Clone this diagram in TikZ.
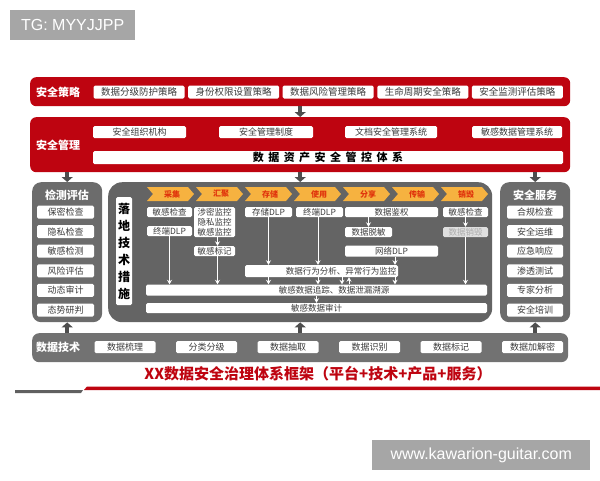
\documentclass[tikz,border=0pt]{standalone}
\usepackage{fontspec}
\setmainfont{Noto Sans CJK SC}
\newfontfamily\wmfont{Liberation Sans}
\usepackage{tikz}
\usetikzlibrary{arrows.meta,positioning}

\definecolor{secred}{RGB}{190,4,16}
\definecolor{panelgray}{RGB}{108,108,108}
\definecolor{ctrgray}{RGB}{100,100,100}
\definecolor{techgray}{RGB}{114,114,114}
\definecolor{arrgray}{RGB}{78,78,78}
\definecolor{stagefill}{RGB}{246,178,64}
\definecolor{stagetext}{RGB}{224,52,12}
\definecolor{itemtext}{RGB}{60,60,60}
\definecolor{wmgray}{RGB}{166,166,166}

\tikzset{
    redbar/.style={fill=secred, rounded corners=6pt, inner sep=0pt},
    graypanel/.style={fill=panelgray, rounded corners=9pt, inner sep=0pt},
    head/.style={text=white, font=\fontsize{11}{12}\selectfont\bfseries},
    item/.style={fill=white, rounded corners=1.5pt, inner sep=0pt, text=itemtext,
        font=\fontsize{9}{10}\selectfont},
    colitem/.style={item, font=\fontsize{8.5}{9}\selectfont},
    stagetxt/.style={text=stagetext, font=\fontsize{8}{9}\selectfont\bfseries},
    warr/.style={draw=white, line width=0.9pt, -{Stealth[length=4.5pt,width=5pt]}},
    rarr/.style={draw=secred, line width=1.1pt, -{Stealth[length=4pt,width=5pt]}},
    garr/.style={draw=arrgray, line width=4pt, -{Triangle[length=5pt,width=11pt]}},
    wmbox/.style={fill=wmgray, text=white, inner sep=0pt,
        font=\wmfont\fontsize{16}{16}\selectfont}
}

\begin{document}
\begin{tikzpicture}[x=1pt,y=-1pt]
\useasboundingbox[fill=white] (0,0) rectangle (600,480);

% watermarks
\node[wmbox, minimum width=125pt, minimum height=30pt, anchor=north west] (tg) at (10,10) {TG: MYYJJPP};
\node[wmbox, minimum width=218pt, minimum height=30pt, anchor=north west] (url) at (372,440) {www.kawarion-guitar.com};

% security policy
\node[redbar, minimum width=540pt, minimum height=29pt, anchor=north west] (policy) at (30,77) {};
\node[head] (policyt) at (58,92) {安全策略};
\foreach \i/\t in {0/数据分级防护策略, 1/身份权限设置策略, 2/数据风险管理策略, 3/生命周期安全策略, 4/安全监测评估策略}
    \node[item, minimum width=91pt, minimum height=13pt, font=\fontsize{9.5}{10}\selectfont] (pol\i) at (139+94.6*\i,92) {\t};

% security management
\node[redbar, minimum width=540pt, minimum height=55pt, anchor=north west] (mgmt) at (30,117) {};
\node[head] (mgmtt) at (58,145) {安全管理};
\node[item, minimum width=470pt, minimum height=13pt, text=black, font=\fontsize{11}{12}\selectfont\bfseries] (asset) at (328,157.5)
    {数\kern4.5pt 据\kern4.5pt 资\kern4.5pt 产\kern4.5pt 安\kern4.5pt 全\kern4.5pt 管\kern4.5pt 控\kern4.5pt 体\kern4.5pt 系};
\foreach \i/\x/\w/\t in {0/139.5/93/安全组织机构, 1/266/94/安全管理制度, 2/391/92/文档安全管理系统, 3/517/90/敏感数据管理系统} {
    \node[item, minimum width=\w pt, minimum height=12pt] (mg\i) at (\x,132) {\t};
    \draw[rarr] (mg\i.south) -- (mg\i.south |- asset.north);
}
\draw[garr] (policy.south) -- (mgmt.north);

% side panels
\node[graypanel, minimum width=70pt, minimum height=140pt, anchor=north west] (left) at (32,182) {};
\node[head] (leftt) at (67,195) {检测评估};
\foreach \i/\t in {0/保密检查, 1/隐私检查, 2/敏感检测, 3/风险评估, 4/动态审计, 5/态势研判}
    \node[item, minimum width=57pt, minimum height=13pt] (lf\i) at (65.5,212+19.6*\i) {\t};

\node[graypanel, minimum width=70pt, minimum height=140pt, anchor=north west] (right) at (500,182) {};
\node[head] (rightt) at (535,195) {安全服务};
\foreach \i/\t in {0/合规检查, 1/安全运维, 2/应急响应, 3/渗透测试, 4/专家分析, 5/安全培训}
    \node[item, minimum width=56pt, minimum height=13pt] (rt\i) at (535,212+19.6*\i) {\t};

% technical measures
\node[graypanel, fill=ctrgray, rounded corners=14pt, minimum width=384pt, minimum height=140pt, anchor=north west] (ctr) at (108,182) {};
\node[item, minimum width=16pt, minimum height=108pt, text=black, align=center,
    font=\fontsize{12}{17}\selectfont\bfseries] (measure) at (124,251) {落\\地\\技\\术\\措\\施};
\foreach \i/\t in {0/采集, 1/汇聚, 2/存储, 3/使用, 4/分享, 5/传输, 6/销毁} {
    \pgfmathsetmacro\sx{147+49*\i}
    \fill[stagefill] (\sx,187) -- ++(41,0) -- ++(6,7) -- ++(-6,7) -- ++(-41,0) -- ++(6,-7) -- cycle;
    \node[stagetxt] (st\i) at (\sx+25,194) {\t};
}
\node[colitem, minimum width=45pt, minimum height=10pt] (c1a) at (169.5,212) {敏感检查};
\node[colitem, minimum width=45pt, minimum height=10pt] (c1b) at (169.5,231) {终端DLP};
\node[colitem, minimum width=41pt, minimum height=30pt, align=center, font=\fontsize{8.5}{9.8}\selectfont] (c2a) at (214.5,222) {涉密监控\\隐私监控\\敏感监控};
\node[colitem, minimum width=41pt, minimum height=10pt] (c2b) at (214.5,251) {敏感标记};
\node[colitem, minimum width=47pt, minimum height=10pt] (c3a) at (268.5,212) {存储DLP};
\node[colitem, minimum width=47pt, minimum height=10pt] (c4a) at (319.5,212) {终端DLP};
\node[colitem, minimum width=93pt, minimum height=10pt] (c5a) at (391.5,212) {数据鉴权};
\node[colitem, minimum width=47pt, minimum height=10pt] (c5b) at (368.5,232) {数据脱敏};
\node[colitem, minimum width=93pt, minimum height=11pt] (c5c) at (391.5,251) {网络DLP};
\node[colitem, minimum width=45pt, minimum height=10pt] (c7a) at (465.5,212) {敏感检查};
\node[colitem, minimum width=45pt, minimum height=10pt, fill=gray!25, text=gray!65] (c7b) at (465.5,232) {数据销毁};
\node[colitem, minimum width=153pt, minimum height=12pt] (beh) at (321.5,271) {};
\node[text=itemtext, font=\fontsize{8.5}{9}\selectfont] (beht) at (341,271) {数据行为分析、异常行为监控};
\node[colitem, minimum width=341pt, minimum height=11pt] (track) at (316.5,290) {};
\node[text=itemtext, font=\fontsize{8.5}{9}\selectfont] (trackt) at (334,290) {敏感数据追踪、数据泄漏溯源};
\node[colitem, minimum width=341pt, minimum height=10pt] (audit) at (316.5,308) {敏感数据审计};

% white flow arrows
\draw[warr] (c1b.south) -- (c1b.south |- track.north);
\draw[warr] ([xshift=3pt]c2a.south) -- ([xshift=3pt]c2b.north);
\draw[warr] ([xshift=3pt]c2b.south) -- ([xshift=3pt]c2b.south |- track.north);
\draw[warr] (c3a.south) -- (c3a.south |- beh.north);
\draw[warr] (c3a.south |- beh.south) -- (c3a.south |- track.north);
\draw[warr] ([xshift=-1.5pt]c4a.south) -- ([xshift=-1.5pt]c4a.south |- beh.north);
\draw[warr] ([xshift=-1.5pt]c4a.south |- beh.south) -- ([xshift=-1.5pt]c4a.south |- track.north);
\draw[warr] ([xshift=20.5pt]beh.south) -- ([xshift=20.5pt]beh.south |- track.north);
\draw[warr] ([xshift=27.5pt]beh.south |- track.north) -- ([xshift=27.5pt]beh.south);
\draw[warr] (c5a.south -| c5b.north) -- (c5b.north);
\draw[warr] ([xshift=3.5pt]c5c.south) -- ([xshift=3.5pt]c5c.south |- beh.north);
\draw[warr] ([xshift=3.5pt]c5c.south |- beh.south) -- ([xshift=3.5pt]c5c.south |- track.north);
\draw[warr] (c7a.south) -- (c7b.north);
\draw[warr] (c7b.south) -- (c7b.south |- track.north);
\draw[warr] (track.south) -- (audit.north);

% data technology
\node[graypanel, fill=techgray, rounded corners=7pt, minimum width=536pt, minimum height=29pt, anchor=north west] (tech) at (32,333) {};
\node[head] (techt) at (58,347.5) {数据技术};
\foreach \i/\t in {0/数据梳理, 1/分类分级, 2/数据抽取, 3/数据识别, 4/数据标记, 5/数据加解密}
    \node[item, minimum width=61pt, minimum height=12pt] (tc\i) at (125+81.5*\i,347) {\t};

% panel arrows
\draw[garr] (mgmt.south -| left.north) -- (left.north);
\draw[garr] (mgmt.south -| ctr.north) -- (ctr.north);
\draw[garr] (mgmt.south -| right.north) -- (right.north);
\draw[garr] (tech.north -| left.south) -- (left.south);
\draw[garr] (tech.north -| ctr.south) -- (ctr.south);
\draw[garr] (tech.north -| right.south) -- (right.south);

% title
\node[text=secred, font=\fontsize{15}{16}\selectfont\bfseries] (title) at (318,374) {XX数据安全治理体系框架（平台+技术+产品+服务）};
\fill[arrgray!90] (15,390) -- (83,390) -- (81,393) -- (15,393) -- cycle;
\fill[secred] (84,390) -- (87,386.5) -- (600,386.5) -- (600,390) -- cycle;
\end{tikzpicture}
\end{document}
